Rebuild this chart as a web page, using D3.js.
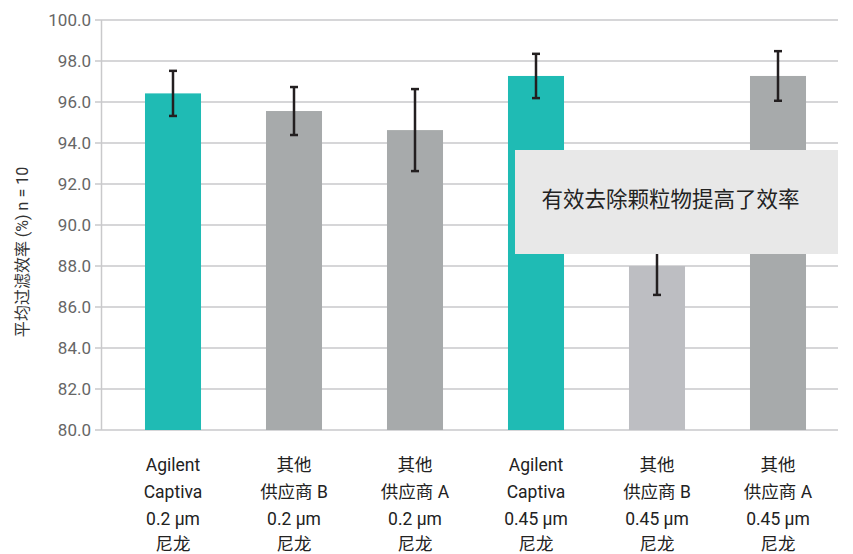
<!DOCTYPE html>
<html><head><meta charset="utf-8">
<script src="https://cdn.jsdelivr.net/npm/d3@7"></script>
<style>body{margin:0;background:#fff}svg{display:block}</style>
</head><body>
<svg id="c" width="853" height="554"></svg>
<script>
const categories = [
  ["Agilent","Captiva","0.2 µm","尼龙"],
  ["其他","供应商 B","0.2 µm","尼龙"],
  ["其他","供应商 A","0.2 µm","尼龙"],
  ["Agilent","Captiva","0.45 µm","尼龙"],
  ["其他","供应商 B","0.45 µm","尼龙"],
  ["其他","供应商 A","0.45 µm","尼龙"]
];
const values = [96.42, 95.56, 94.63, 97.27, 88.0, 97.27];
const errors = [1.10, 1.17, 2.0, 1.08, 1.41, 1.21];
const barColors = ["#1fbbb4","#a7aaab","#a7aaab","#1fbbb4","#bdbec2","#a7aaab"];
const yTicks = [80,82,84,86,88,90,92,94,96,98,100];
const yTitle = "平均过滤效率 (%) n = 10";
const note = "有效去除颗粒物提高了效率";

const svg = d3.select("#c");
const font = "Roboto, 'Noto Sans CJK SC', sans-serif";
const y = d3.scaleLinear().domain([80,100]).range([430,20]);
const x = d3.scaleBand().domain(d3.range(categories.length)).range([112.5,838.5]).paddingInner(0.537).paddingOuter(0.2685);

// gridlines
svg.append("g").selectAll("line").data(yTicks).join("line")
  .attr("x1",95).attr("x2",838).attr("y1",d=>y(d)).attr("y2",d=>y(d))
  .attr("stroke","#c9c9cb").attr("stroke-width",1.5);
// y axis line
svg.append("line").attr("x1",101.5).attr("x2",101.5).attr("y1",y(100)).attr("y2",y(80))
  .attr("stroke","#c9c9cb").attr("stroke-width",1.5);
// tick labels
svg.append("g").selectAll("text").data(yTicks).join("text")
  .attr("x",91).attr("y",d=>y(d)).attr("dy","0.35em").attr("text-anchor","end")
  .attr("font-family",font).attr("font-size",17).attr("fill","#666")
  .text(d=>d.toFixed(1));
// y title
svg.append("text").attr("transform","translate(22,252) rotate(-90)")
  .attr("dy","0.35em")
  .attr("text-anchor","middle").attr("font-family",font).attr("font-size",16).attr("fill","#333")
  .text(yTitle);

// bars
svg.append("g").selectAll("rect").data(values).join("rect")
  .attr("x",(d,i)=>x(i)).attr("width",x.bandwidth())
  .attr("y",d=>y(d)).attr("height",d=>y(80)-y(d))
  .attr("fill",(d,i)=>barColors[i]);

// error bars
const eg = svg.append("g").attr("stroke","#231f20").attr("stroke-width",2.5);
values.forEach((v,i)=>{
  const cx = x(i)+x.bandwidth()/2;
  const t = y(v+errors[i]), b = y(v-errors[i]);
  eg.append("line").attr("x1",cx).attr("x2",cx).attr("y1",t).attr("y2",b);
  eg.append("line").attr("x1",cx-4).attr("x2",cx+4).attr("y1",t).attr("y2",t);
  eg.append("line").attr("x1",cx-4).attr("x2",cx+4).attr("y1",b).attr("y2",b);
});

// x labels
const lineY = [465,492,519,544];
categories.forEach((lines,i)=>{
  const cx = x(i)+x.bandwidth()/2;
  lines.forEach((t,j)=>{
    svg.append("text").attr("x",cx).attr("y",lineY[j]).attr("dy","0.35em")
      .attr("text-anchor","middle").attr("font-family",font).attr("font-size",17.5).attr("fill","#222")
      .text(t);
  });
});

// annotation box
svg.append("rect").attr("x",515).attr("y",150).attr("width",323).attr("height",104).attr("fill","#e8e8e8");
svg.append("text").attr("x",670.5).attr("y",199).attr("dy","0.35em").attr("text-anchor","middle")
  .attr("font-family","'Noto Sans CJK SC', sans-serif").attr("font-size",21.5).attr("fill","#222")
  .text(note);
</script>
</body></html>
